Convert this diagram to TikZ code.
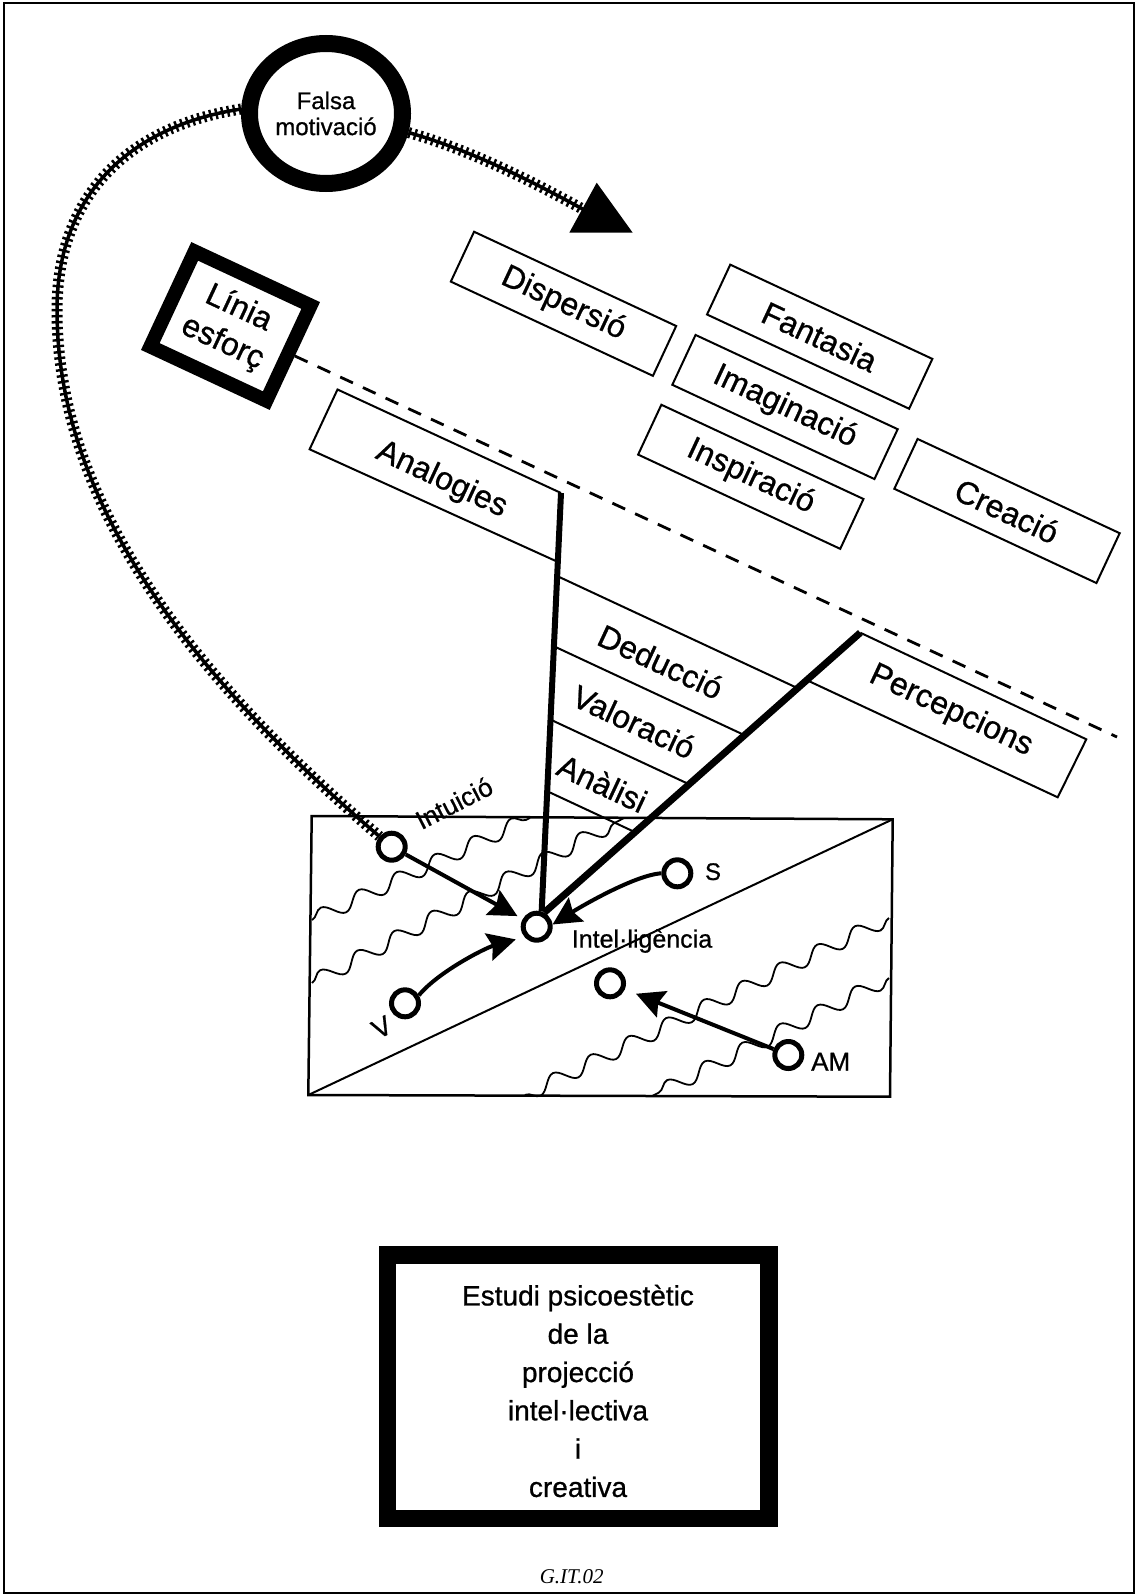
\documentclass[tikz,border=0pt]{standalone}
\usepackage{fontspec}
\setmainfont{Liberation Sans}[FakeBold=0.8]
\newfontfamily\serifit{Liberation Serif}
\usetikzlibrary{shapes.geometric,arrows.meta,decorations.pathmorphing}
\begin{document}
\begin{tikzpicture}[x=1pt,y=-1pt,
  lbl/.style={font=\fontsize{32}{38}\selectfont},
  tbox/.style={draw, line width=2pt, rotate=-25, minimum width=223pt, minimum height=55pt, inner sep=0pt, lbl},
  tlabel/.style={rotate=-25, inner sep=0pt, lbl},
  bline/.style={line width=2pt},
  ring/.style={circle, draw, fill=white, line width=5pt, minimum size=27pt, inner sep=0pt},
  arr/.style={line width=4pt, -{Stealth[length=28pt,width=28pt,inset=4pt]}},
  hatch/.style={line width=3.5pt, postaction={draw, line width=11pt, dash pattern=on 2.4pt off 3.6pt}},
  wave/.style={line width=1.8pt, decorate, decoration={snake, segment length=42pt, amplitude=7.5pt}},
  smalltxt/.style={inner sep=0pt, font=\fontsize{25}{28}\selectfont}
]
\useasboundingbox (0,0) rectangle (1137,1595);
\draw[line width=1.5pt] (4,3) rectangle (1134,1593);

% Falsa motivacio
\node[ellipse, draw, line width=17pt, minimum width=153pt, minimum height=140pt, inner sep=0pt, align=center, font=\fontsize{24}{26}\selectfont] (fm) at (326,113.5) {Falsa\\motivació};

% Linia esforc
\node[draw, line width=14pt, rotate=-25, minimum width=128pt, minimum height=105pt, inner sep=0pt, align=center, font=\fontsize{32}{38}\selectfont] (le) at (230.5,326) {Línia\\esforç};
\coordinate (dashend) at (1117,737);
\draw[line width=2.8pt, dash pattern=on 14pt off 11pt] (le.east) -- (dashend);

% upper boxes
\node[tbox] (disp) at (563.5,303.8) {Dispersió};
\node[tbox] (fant) at (819.7,336.7) {Fantasia};
\node[tbox] (imag) at (785,407) {Imaginació};
\node[tbox] (insp) at (750.8,476.8) {Inspiració};
\node[tbox] (crea) at (1007,511) {Creació};

% Analogies
\draw[bline] (561,493) -- (337.5,389.5) -- (309.6,449.3) -- (558,562);
\node[tlabel] (anal) at (441.6,480) {Analogies};

% Percepcions
\draw[bline] (806.7,680.1) -- (1057.7,797.3) -- (1086.3,739.3) -- (860.3,632.7);
\node[tlabel] (perc) at (951,711) {Percepcions};

% stack lines
\draw[bline] (557.1,576) -- (797.7,688.2);
\draw[bline] (553.8,646.2) -- (744.6,735.2);
\draw[bline] (550.3,719.5) -- (689.2,784.3);
\draw[bline] (547,791.1) -- (635.1,832.2);
\node[tlabel] (ded) at (660.7,661.7) {Deducció};
\node[tlabel] (val) at (634,721.7) {Valoració};
\node[tlabel] (anl) at (602.3,783.3) {Anàlisi};

% rectangle
\draw[line width=2.5pt] (311.7,816) -- (892.7,819.3) -- (890,1096.7) -- (308.3,1095) -- cycle;
\draw[bline] (308.3,1095) -- (892.7,819.3);
\draw[wave] (312,920) -- (530,818);
\draw[wave] (312,983) -- (624,818);
\draw[wave] (889,918) -- (525,1095);
\draw[wave] (889,978) -- (652,1096);

% small circles
\node[ring] (intu) at (391.7,846.7) {};
\node[ring] (intel) at (536.7,926.7) {};
\node[ring] (vc) at (405,1003.3) {};
\node[ring] (sc) at (677.3,873.3) {};
\node[ring] (uc) at (610,983.3) {};
\node[ring] (amc) at (788.3,1055) {};

% thick lines
\coordinate (vtop) at (561,493);
\coordinate (ptl) at (860.3,632.7);
\draw[line width=6pt] (vtop) -- (intel.72);
\draw[line width=7pt] (ptl) -- (intel.62);

% hatched curves
\draw[hatch] (fm.177) .. controls (135,125) and (57,190) .. (57,310) .. controls (57,510) and (201,684) .. (intu.140);
\coordinate (arrowtip) at (588,212);
\draw[hatch] (fm.-13) .. controls (470,150) and (530,180) .. (arrowtip);
\fill (596.7,182.7) -- (569.3,232.7) -- (632.7,232.7) -- cycle;

% arrows
\draw[arr, shorten >=6pt] (intu) -- (intel);
\draw[arr] (sc.180) .. controls (635,875) and (581,906.5) .. (intel.8);
\draw[arr, shorten >=9pt] (vc.30) .. controls (438,972) and (485,948) .. (intel.220);
\draw[arr, shorten >=12pt] (amc) -- (uc);

% labels
\node[smalltxt, rotate=27, font=\fontsize{26}{28}\selectfont] (intulbl) at (454,803) {Intuició};
\node[smalltxt] (intellbl) at (642,941) {Intel·ligència};
\node[inner sep=0pt, font=\fontsize{24}{26}\selectfont] (slbl) at (713,871.7) {S};
\node[inner sep=0pt, font=\fontsize{26}{28}\selectfont] (amlbl) at (830.7,1061.7) {AM};
\node[inner sep=0pt, rotate=28, font=\fontsize{27}{28}\selectfont] (vlbl) at (381.7,1027.3) {V};

% bottom box
\node[draw, line width=17.5pt, minimum width=381.5pt, minimum height=263.5pt, inner sep=0pt] (est) at (578.25,1386.75) {};
\node[align=center, inner sep=0pt, font=\fontsize{28}{38.3}\selectfont] (esttext) at (578,1391) {Estudi psicoestètic\\de la\\projecció\\intel·lectiva\\i\\creativa};
\node[inner sep=0pt, font=\serifit\itshape\fontsize{21}{22}\selectfont] (code) at (571.7,1577) {G.IT.02};
\end{tikzpicture}
\end{document}
